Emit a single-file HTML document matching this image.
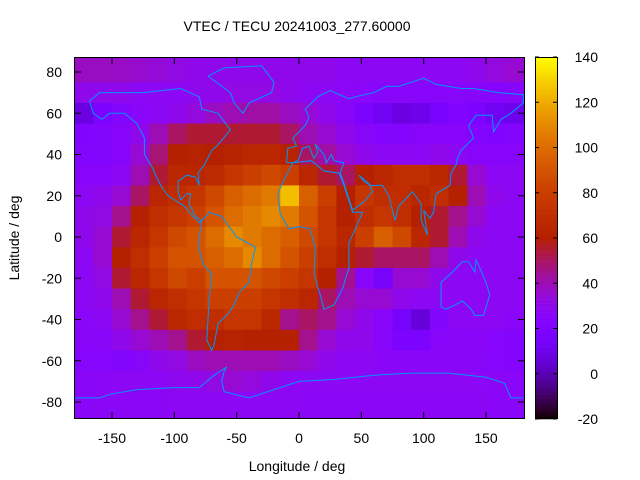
<!DOCTYPE html>
<html><head><meta charset="utf-8"><style>
body{margin:0;background:#fff}
svg{display:block;font-family:"Liberation Sans",sans-serif}
</style></head><body>
<svg id="chart" width="640" height="480">
<text x="297" y="31" font-size="14" text-anchor="middle">VTEC / TECU 20241003_277.60000</text>
<g id="heat"></g>
<g id="coast"></g>
<rect x="74.5" y="57.5" width="450" height="361" fill="none" stroke="#000"/>
<g id="axes" font-size="14"></g>
<g id="cbar"></g>
<text x="297" y="471" font-size="14" text-anchor="middle">Longitude / deg</text>
<text x="19" y="238" font-size="14" text-anchor="middle" transform="rotate(-90 19 238)">Latitude / deg</text>
</svg>
<script>
const lons=[-172.5,-157.5,-142.5,-127.5,-112.5,-97.5,-82.5,-67.5,-52.5,-37.5,-22.5,-7.5,7.5,22.5,37.5,52.5,67.5,82.5,97.5,112.5,127.5,142.5,157.5,172.5];
const lats=[80,70,60,50,40,30,20,10,0,-10,-20,-30,-40,-50,-60,-70,-80];
const tec=[
[38,38,37,36,34,32,30,30,30,30,30,30,30,30,28,28,28,28,28,28,28,30,33,35],
[30,30,30,28,28,28,30,30,32,32,32,30,28,28,27,26,25,25,25,25,25,25,24,25],
[8,18,22,26,28,30,33,38,40,42,42,38,35,30,25,18,12,8,10,16,20,18,12,10],
[20,22,25,30,40,50,55,55,55,55,55,50,40,35,30,25,22,22,25,25,25,22,20,22],
[22,22,25,35,48,60,62,60,62,65,65,62,50,42,35,30,28,28,28,30,28,25,25,25],
[25,25,28,40,55,65,65,68,75,80,85,80,65,55,50,60,65,70,70,65,55,35,28,28],
[28,30,35,50,65,70,75,85,95,100,105,125,95,80,60,75,70,70,65,70,60,40,30,28],
[30,32,45,60,70,75,80,90,100,105,110,105,90,75,60,70,75,70,60,55,45,35,28,28],
[30,35,55,65,75,85,90,100,110,105,100,95,85,75,65,80,95,85,65,55,40,30,28,28],
[28,35,60,70,80,90,90,95,100,110,100,90,80,70,60,55,50,50,50,40,30,28,28,28],
[28,32,55,65,75,85,80,90,90,90,85,80,75,60,45,25,15,35,35,30,28,28,28,28],
[28,30,40,55,65,70,75,80,80,80,75,70,65,50,40,35,35,30,28,28,28,28,28,28],
[26,28,35,45,55,65,70,70,75,75,65,45,50,45,35,30,25,15,6,22,28,28,28,26],
[25,26,30,35,40,45,55,60,62,60,60,60,45,35,30,30,25,18,18,25,26,26,24,22],
[24,24,22,25,30,32,38,40,40,40,40,38,35,30,28,28,26,26,26,26,26,25,24,22],
[26,27,28,28,28,29,30,32,35,33,30,28,28,28,28,28,28,28,28,28,28,28,27,26],
[26,27,27,27,27,28,28,28,28,28,28,28,27,27,27,27,27,27,27,27,27,27,26,26]];
const xTicks=[-150,-100,-50,0,50,100,150];
const yTicks=[80,60,40,20,0,-20,-40,-60,-80];
const cTicks=[140,120,100,80,60,40,20,0,-20];
const NS='http://www.w3.org/2000/svg';
const X=l=>74.6+(l+180)*1.2467, Y=b=>237-b*2.0625;
const CY=v=>419-(v+20)*(362/160);
function col(v){let x=Math.max(0,Math.min(1,(v+20)/160));
 const r=Math.sqrt(x),g=x*x*x,b=Math.max(0,Math.sin(2*Math.PI*x));
 return `rgb(${Math.round(r*255)},${Math.round(g*255)},${Math.round(b*255)})`;}
function mk(t,a,p){const e=document.createElementNS(NS,t);for(const k in a)e.setAttribute(k,a[k]);p.appendChild(e);return e;}
const heat=document.getElementById('heat');
lats.forEach((la,i)=>{lons.forEach((lo,j)=>{
 const y0=i===0?57.5:Y(la+5),y1=i===lats.length-1?418.5:Y(la-5);
 const x0=j===0?74.5:X(lo-7.5),x1=j===lons.length-1?524.5:X(lo+7.5);
 const r=mk('rect',{x:x0,y:y0,width:x1-x0+0.5,height:y1-y0+0.5,fill:col(tec[i][j])},heat);
 
 
});});
const coasts={
'north-america':[[-168,66],[-160,70],[-140,70],[-125,70],[-95,72],[-80,68],[-78,62],[-65,60],[-55,52],[-66,44],[-70,42],[-76,35],[-81,31],[-80,25],[-83,29],[-90,30],[-97,27],[-97,22],[-95,18],[-90,21],[-87,21],[-88,16],[-83,10],[-78,8],[-80,7],[-85,10],[-92,15],[-105,20],[-110,24],[-115,30],[-117,33],[-124,40],[-124,48],[-130,55],[-140,60],[-152,60],[-158,57],[-165,60],[-168,66]],
'greenland':[[-73,78],[-60,82],[-30,83],[-20,75],[-22,70],[-40,65],[-45,60],[-52,65],[-55,70],[-73,78]],
'south-america':[[-78,8],[-72,12],[-62,10],[-50,0],[-35,-5],[-38,-13],[-40,-22],[-48,-27],[-53,-34],[-58,-38],[-65,-42],[-68,-52],[-70,-55],[-74,-50],[-72,-30],[-70,-18],[-76,-14],[-81,-5],[-80,0],[-78,8]],
'africa':[[-17,21],[-10,30],[-5,36],[10,37],[20,32],[32,31],[35,27],[43,12],[51,12],[40,-3],[40,-15],[35,-25],[28,-33],[20,-35],[18,-30],[12,-18],[13,-5],[9,4],[0,5],[-8,4],[-15,11],[-17,21]],
'eurasia':[[-10,36],[-9,43],[-2,44],[-5,48],[5,54],[8,58],[5,62],[15,68],[25,71],[40,67],[45,68],[60,70],[70,73],[80,73],[100,77],[110,74],[130,72],[140,72],[160,70],[180,69],[180,65],[170,60],[162,57],[156,51],[155,59],[142,59],[136,54],[140,48],[130,42],[127,38],[126,35],[122,31],[121,25],[110,21],[108,12],[105,9],[100,13],[103,1],[98,8],[98,16],[91,22],[80,15],[77,8],[72,20],[67,25],[57,25],[52,27],[48,30],[56,26],[59,22],[52,17],[43,13],[35,28],[33,31],[36,36],[28,37],[26,40],[22,36],[20,40],[13,45],[15,41],[12,38],[8,44],[3,43],[-1,37],[-5,36],[-10,36]],
'australia':[[114,-22],[114,-34],[118,-35],[125,-33],[131,-31],[138,-35],[141,-38],[148,-38],[153,-28],[150,-22],[145,-15],[142,-11],[141,-17],[136,-12],[131,-12],[123,-17],[114,-22]],
'antarctica':[[-180,-78],[-160,-78],[-150,-76],[-130,-74],[-100,-73],[-80,-73],[-68,-67],[-58,-63],[-60,-65],[-62,-70],[-60,-75],[-40,-78],[-20,-74],[0,-70],[30,-69],[60,-67],[90,-66],[120,-66],[150,-68],[165,-71],[170,-78],[180,-78]]};
const coast=document.getElementById('coast');
for(const k in coasts){const p=mk('polyline',{points:coasts[k].map(q=>X(q[0]).toFixed(1)+','+Y(q[1]).toFixed(1)).join(' '),fill:'none',stroke:'#0096ff','stroke-width':1},coast);
 
 }
const axes=document.getElementById('axes');
xTicks.forEach(t=>{const x=X(t);
 mk('line',{x1:x,x2:x,y1:418,y2:412,stroke:'#000'},axes);mk('line',{x1:x,x2:x,y1:58,y2:64,stroke:'#000'},axes);
 const e=mk('text',{x:x,y:443,'text-anchor':'middle'},axes);e.textContent=t;
 
 });
yTicks.forEach(t=>{const y=Y(t);
 mk('line',{x1:75,x2:81,y1:y,y2:y,stroke:'#000'},axes);mk('line',{x1:524,x2:518,y1:y,y2:y,stroke:'#000'},axes);
 const e=mk('text',{x:62,y:y+5,'text-anchor':'end'},axes);e.textContent=t;
 
 });
const cb=document.getElementById('cbar');
for(let v=-20;v<140;v+=1){mk('rect',{x:535,y:CY(v+1),width:22,height:362/160+0.3,fill:col(v+0.5)},cb);}
mk('rect',{x:535.5,y:57.5,width:22,height:361,fill:'none',stroke:'#000'},cb);
cTicks.forEach(t=>{const y=CY(t);
 mk('line',{x1:535,x2:539,y1:y,y2:y,stroke:'#000'},cb);mk('line',{x1:557,x2:553,y1:y,y2:y,stroke:'#000'},cb);
 const e=mk('text',{x:598,y:y+5,'text-anchor':'end','font-size':14},cb);e.textContent=t;
 
 });
</script>
</body></html>
